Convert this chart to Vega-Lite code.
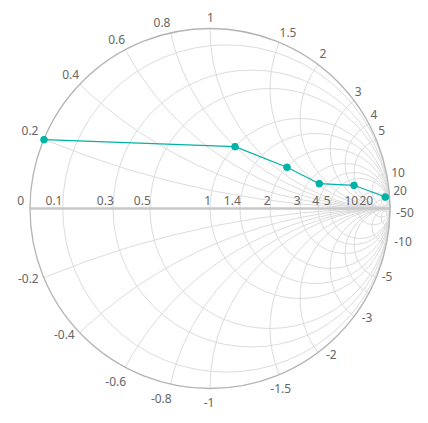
{
  "$schema": "https://vega.github.io/schema/vega-lite/v6.json",
  "width": 428,
  "height": 423,
  "padding": 0,
  "autosize": {"type": "none"},
  "background": "white",
  "config": {"view": {"stroke": null}},
  "datasets": {
    "reactance": [
      {"x": 0.2, "gx": 1, "gy": 5, "d": 10},
      {"x": 0.4, "gx": 1, "gy": 2.5, "d": 5},
      {"x": 0.6, "gx": 1, "gy": 1.66667, "d": 3.33333},
      {"x": 0.8, "gx": 1, "gy": 1.25, "d": 2.5},
      {"x": 1, "gx": 1, "gy": 1, "d": 2},
      {"x": 1.5, "gx": 1, "gy": 0.66667, "d": 1.33333},
      {"x": 2, "gx": 1, "gy": 0.5, "d": 1},
      {"x": 3, "gx": 1, "gy": 0.33333, "d": 0.66667},
      {"x": 4, "gx": 1, "gy": 0.25, "d": 0.5},
      {"x": 5, "gx": 1, "gy": 0.2, "d": 0.4},
      {"x": 10, "gx": 1, "gy": 0.1, "d": 0.2},
      {"x": 20, "gx": 1, "gy": 0.05, "d": 0.1},
      {"x": 50, "gx": 1, "gy": 0.02, "d": 0.04},
      {"x": -0.2, "gx": 1, "gy": -5, "d": 10},
      {"x": -0.4, "gx": 1, "gy": -2.5, "d": 5},
      {"x": -0.6, "gx": 1, "gy": -1.66667, "d": 3.33333},
      {"x": -0.8, "gx": 1, "gy": -1.25, "d": 2.5},
      {"x": -1, "gx": 1, "gy": -1, "d": 2},
      {"x": -1.5, "gx": 1, "gy": -0.66667, "d": 1.33333},
      {"x": -2, "gx": 1, "gy": -0.5, "d": 1},
      {"x": -3, "gx": 1, "gy": -0.33333, "d": 0.66667},
      {"x": -4, "gx": 1, "gy": -0.25, "d": 0.5},
      {"x": -5, "gx": 1, "gy": -0.2, "d": 0.4},
      {"x": -10, "gx": 1, "gy": -0.1, "d": 0.2},
      {"x": -20, "gx": 1, "gy": -0.05, "d": 0.1},
      {"x": -50, "gx": 1, "gy": -0.02, "d": 0.04}
    ],
    "resistance": [
      {"r": 0.1, "gx": 0.09091, "gy": 0, "d": 1.81818},
      {"r": 0.3, "gx": 0.23077, "gy": 0, "d": 1.53846},
      {"r": 0.5, "gx": 0.33333, "gy": 0, "d": 1.33333},
      {"r": 1, "gx": 0.5, "gy": 0, "d": 1},
      {"r": 1.4, "gx": 0.58333, "gy": 0, "d": 0.83333},
      {"r": 2, "gx": 0.66667, "gy": 0, "d": 0.66667},
      {"r": 3, "gx": 0.75, "gy": 0, "d": 0.5},
      {"r": 4, "gx": 0.8, "gy": 0, "d": 0.4},
      {"r": 5, "gx": 0.83333, "gy": 0, "d": 0.33333},
      {"r": 10, "gx": 0.90909, "gy": 0, "d": 0.18182},
      {"r": 20, "gx": 0.95238, "gy": 0, "d": 0.09524},
      {"r": 50, "gx": 0.98039, "gy": 0, "d": 0.03922}
    ],
    "boundary": [{"r": 0, "gx": 0, "gy": 0, "d": 2}],
    "axisline": [{"gx": -1, "gy": 0}, {"gx": 1, "gy": 0}],
    "series": [
      {"i": 1, "gx": -0.9222, "gy": 0.3822},
      {"i": 2, "gx": 0.1389, "gy": 0.3433},
      {"i": 3, "gx": 0.4278, "gy": 0.2289},
      {"i": 4, "gx": 0.6072, "gy": 0.1378},
      {"i": 5, "gx": 0.8, "gy": 0.1289},
      {"i": 6, "gx": 0.9739, "gy": 0.0639}
    ],
    "labels": [
      {"label": "0.2", "gx": -1.0, "gy": 0.4306},
      {"label": "0.4", "gx": -0.7739, "gy": 0.7417},
      {"label": "0.6", "gx": -0.5183, "gy": 0.9361},
      {"label": "0.8", "gx": -0.2667, "gy": 1.0333},
      {"label": "1", "gx": 0.0028, "gy": 1.0583},
      {"label": "1.5", "gx": 0.4333, "gy": 0.9767},
      {"label": "2", "gx": 0.6278, "gy": 0.8567},
      {"label": "3", "gx": 0.8239, "gy": 0.6489},
      {"label": "4", "gx": 0.9111, "gy": 0.5194},
      {"label": "5", "gx": 0.9539, "gy": 0.4306},
      {"label": "10", "gx": 1.0444, "gy": 0.1972},
      {"label": "20", "gx": 1.0556, "gy": 0.0972},
      {"label": "-50", "gx": 1.0833, "gy": -0.025},
      {"label": "-10", "gx": 1.0722, "gy": -0.1861},
      {"label": "-5", "gx": 0.9833, "gy": -0.3806},
      {"label": "-3", "gx": 0.8722, "gy": -0.6067},
      {"label": "-2", "gx": 0.6739, "gy": -0.8139},
      {"label": "-1.5", "gx": 0.3928, "gy": -1.0044},
      {"label": "-1", "gx": -0.0056, "gy": -1.0806},
      {"label": "-0.8", "gx": -0.2706, "gy": -1.06},
      {"label": "-0.6", "gx": -0.5239, "gy": -0.9639},
      {"label": "-0.4", "gx": -0.8094, "gy": -0.7028},
      {"label": "-0.2", "gx": -1.0094, "gy": -0.3933},
      {"label": "0", "gx": -1.0517, "gy": 0.0417},
      {"label": "0.1", "gx": -0.8667, "gy": 0.0417},
      {"label": "0.3", "gx": -0.5817, "gy": 0.0417},
      {"label": "0.5", "gx": -0.3761, "gy": 0.0417},
      {"label": "1", "gx": -0.0128, "gy": 0.0417},
      {"label": "1.4", "gx": 0.1239, "gy": 0.0417},
      {"label": "2", "gx": 0.3183, "gy": 0.0417},
      {"label": "3", "gx": 0.485, "gy": 0.0417},
      {"label": "4", "gx": 0.5872, "gy": 0.0417},
      {"label": "5", "gx": 0.6517, "gy": 0.0417},
      {"label": "10", "gx": 0.785, "gy": 0.0417},
      {"label": "20", "gx": 0.8683, "gy": 0.0417}
    ]
  },
  "encoding": {
    "x": {"field": "gx", "type": "quantitative", "scale": {"domain": [-1.16667, 1.21111], "nice": false, "zero": false}, "axis": null},
    "y": {"field": "gy", "type": "quantitative", "scale": {"domain": [-1.19167, 1.15833], "nice": false, "zero": false}, "axis": null}
  },
  "layer": [
    {
      "data": {"name": "reactance"},
      "mark": {"type": "point", "shape": "circle", "filled": false, "stroke": "#dcdcdc", "strokeWidth": 1, "opacity": 1, "clip": true},
      "encoding": {"size": {"field": "d", "type": "quantitative", "scale": {"type": "pow", "exponent": 2, "domain": [0, 1], "range": [0, 32400]}, "legend": null}}
    },
    {
      "data": {"name": "boundary"},
      "mark": {"type": "point", "shape": "circle", "filled": false, "stroke": "white", "strokeWidth": 140, "opacity": 1, "clip": true},
      "encoding": {"size": {"datum": 2.78333, "type": "quantitative", "scale": {"type": "pow", "exponent": 2, "domain": [0, 1], "range": [0, 32400]}, "legend": null}}
    },
    {
      "data": {"name": "resistance"},
      "mark": {"type": "point", "shape": "circle", "filled": false, "stroke": "#dcdcdc", "strokeWidth": 1, "opacity": 1, "clip": true},
      "encoding": {"size": {"field": "d", "type": "quantitative", "scale": {"type": "pow", "exponent": 2, "domain": [0, 1], "range": [0, 32400]}, "legend": null}}
    },
    {
      "data": {"name": "axisline"},
      "mark": {"type": "line", "stroke": "#c8c8c8", "strokeWidth": 2.5},
      "encoding": {}
    },
    {
      "data": {"name": "boundary"},
      "mark": {"type": "point", "shape": "circle", "filled": false, "stroke": "#b4b4b4", "strokeWidth": 1.3, "opacity": 1, "clip": true},
      "encoding": {"size": {"field": "d", "type": "quantitative", "scale": {"type": "pow", "exponent": 2, "domain": [0, 1], "range": [0, 32400]}, "legend": null}}
    },
    {
      "data": {"name": "series"},
      "mark": {"type": "line", "stroke": "#00b3a4", "strokeWidth": 1.2},
      "encoding": {"order": {"field": "i", "type": "quantitative"}}
    },
    {
      "data": {"name": "series"},
      "mark": {"type": "point", "shape": "circle", "filled": true, "fill": "#00b3a4", "stroke": "#00b3a4", "strokeWidth": 1, "size": 45, "opacity": 1}
    },
    {
      "data": {"name": "labels"},
      "mark": {"type": "text", "font": "Noto Sans", "fontSize": 12, "fill": "#666666", "align": "center", "baseline": "middle"},
      "encoding": {"text": {"field": "label", "type": "nominal"}}
    }
  ]
}
